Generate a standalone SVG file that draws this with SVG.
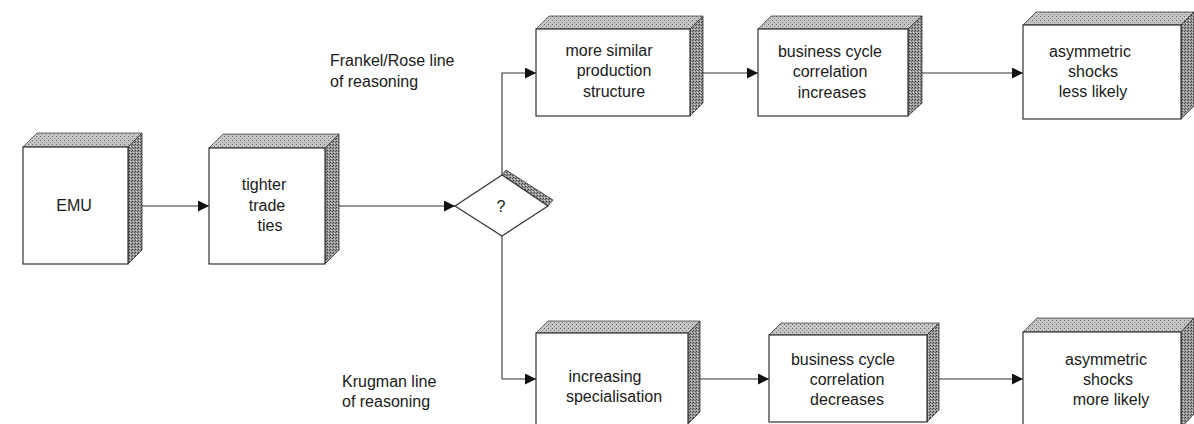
<svg xmlns="http://www.w3.org/2000/svg" width="1194" height="424" viewBox="0 0 1194 424">
<defs>
<pattern id="topTex" width="4" height="4" patternUnits="userSpaceOnUse">
<rect width="4" height="4" fill="#c4c4c4"/>
<rect x="0" y="0" width="1" height="1" fill="#6a6a6a"/>
<rect x="2" y="2" width="1" height="1" fill="#8a8a8a"/>
</pattern>
<pattern id="sideTex" width="3" height="3" patternUnits="userSpaceOnUse">
<rect width="3" height="3" fill="#9a9a9a"/>
<rect x="0" y="0" width="1" height="1" fill="#3a3a3a"/>
<rect x="2" y="1" width="1" height="1" fill="#555"/>
<rect x="1" y="2" width="1" height="1" fill="#d0d0d0"/>
</pattern>
<marker id="arr" viewBox="0 0 10 10" refX="10" refY="5" markerWidth="11" markerHeight="11" markerUnits="userSpaceOnUse" orient="auto">
<path d="M0,0 L10,5 L0,10 z" fill="#111"/>
</marker>
</defs>
<style>
.front{fill:#fff;stroke:#333;stroke-width:1.2}
.top{fill:url(#topTex);stroke:#444;stroke-width:0.8}
.side{fill:url(#sideTex);stroke:#333;stroke-width:0.8}
.con{fill:none;stroke:#333;stroke-width:1.1}
text{font-family:"Liberation Sans",Arial,sans-serif;font-size:16px;fill:#1a1a1a}
.c{text-anchor:middle}
</style>
<rect width="1194" height="424" fill="#fff"/>

<g id="connectors">
<line class="con" x1="142" y1="206" x2="209" y2="206" marker-end="url(#arr)"/>
<line class="con" x1="338" y1="206" x2="455" y2="206" marker-end="url(#arr)"/>
<polyline class="con" points="502,175 502,73 536,73" marker-end="url(#arr)"/>
<polyline class="con" points="502,236 502,379 536,379" marker-end="url(#arr)"/>
<line class="con" x1="703" y1="73" x2="758" y2="73" marker-end="url(#arr)"/>
<line class="con" x1="922" y1="73" x2="1023" y2="73" marker-end="url(#arr)"/>
<line class="con" x1="700" y1="379" x2="769" y2="379" marker-end="url(#arr)"/>
<line class="con" x1="938" y1="379" x2="1023" y2="379" marker-end="url(#arr)"/>
</g>

<g id="emu">
<polygon class="top" points="23,147 37,133 142,133 128,147"/>
<polygon class="side" points="128,147 142,133 142,250 128,264"/>
<rect class="front" x="23" y="147" width="105" height="117"/>
<text class="c" x="74" y="211">EMU</text>
</g>

<g id="tighter-trade-ties">
<polygon class="top" points="209,148 223,134 339,134 325,148"/>
<polygon class="side" points="325,148 339,134 339,250 325,264"/>
<rect class="front" x="209" y="148" width="116" height="116"/>
<text class="c" x="264" y="190">tighter</text>
<text class="c" x="267" y="211">trade</text>
<text class="c" x="270" y="231">ties</text>
</g>

<g id="decision">
<polygon class="side" points="502,175 506,170 553,200 548,206"/>
<polygon class="front" points="455,206 502,175 548,206 502,236"/>
<text class="c" x="501" y="212">?</text>
</g>

<g id="more-similar">
<polygon class="top" points="536,29 549,16 703,16 690,29"/>
<polygon class="side" points="690,29 703,16 703,103 690,116"/>
<rect class="front" x="536" y="29" width="154" height="87"/>
<text class="c" x="609" y="56">more similar</text>
<text class="c" x="614" y="76">production</text>
<text class="c" x="614" y="97">structure</text>
</g>

<g id="bc-increases">
<polygon class="top" points="758,29 771,16 922,16 908,29"/>
<polygon class="side" points="908,29 922,16 922,103 908,116"/>
<rect class="front" x="758" y="29" width="150" height="87"/>
<text class="c" x="830" y="57">business cycle</text>
<text class="c" x="830" y="77">correlation</text>
<text class="c" x="832" y="98">increases</text>
</g>

<g id="shocks-less">
<polygon class="top" points="1023,25 1036,12 1194,12 1181,25"/>
<polygon class="side" points="1181,25 1194,12 1194,106 1181,119"/>
<rect class="front" x="1023" y="25" width="158" height="94"/>
<text class="c" x="1090" y="57">asymmetric</text>
<text class="c" x="1093" y="77">shocks</text>
<text class="c" x="1093" y="97">less likely</text>
</g>

<g id="specialisation">
<polygon class="top" points="536,333 548,321 700,321 688,333"/>
<polygon class="side" points="688,333 700,321 700,412 688,424"/>
<rect class="front" x="536" y="333" width="152" height="95"/>
<text class="c" x="605" y="382">increasing</text>
<text class="c" x="614" y="402">specialisation</text>
</g>

<g id="bc-decreases">
<polygon class="top" points="769,335 781,323 939,323 927,335"/>
<polygon class="side" points="927,335 939,323 939,410 927,422"/>
<rect class="front" x="769" y="335" width="158" height="87"/>
<text class="c" x="843" y="365">business cycle</text>
<text class="c" x="847" y="385">correlation</text>
<text class="c" x="847" y="405">decreases</text>
</g>

<g id="shocks-more">
<polygon class="top" points="1023,332 1037,318 1194,318 1181,332"/>
<polygon class="side" points="1181,332 1194,318 1194,414 1181,428"/>
<rect class="front" x="1023" y="332" width="158" height="96"/>
<text class="c" x="1106" y="365">asymmetric</text>
<text class="c" x="1108" y="385">shocks</text>
<text class="c" x="1111" y="405">more likely</text>
</g>

<g id="labels">
<text x="330" y="66">Frankel/Rose line</text>
<text x="330" y="87">of reasoning</text>
<text x="342" y="387">Krugman line</text>
<text x="342" y="407">of reasoning</text>
</g>
</svg>
